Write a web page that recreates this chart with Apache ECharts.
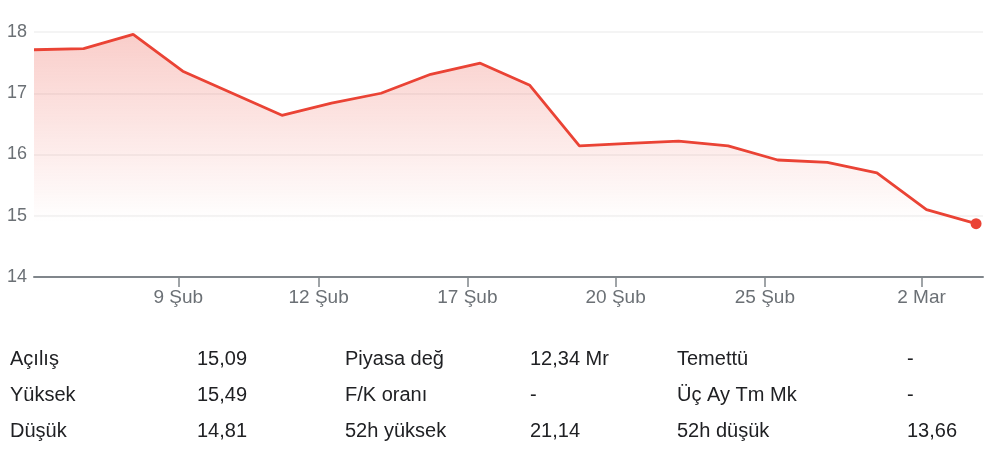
<!DOCTYPE html>
<html>
<head>
<meta charset="utf-8">
<script src="https://cdn.jsdelivr.net/npm/echarts@6/dist/echarts.min.js"></script>
<style>
  html, body { margin: 0; padding: 0; background: #fff; }
  #chart { width: 1000px; height: 472px; }
</style>
</head>
<body>
<div id="chart"></div>
<script>
// kapanış fiyatları (işlem günü sırasıyla)
const prices = [17.71, 17.73, 17.96, 17.36, 17.0, 16.64, 16.84, 17.0, 17.31, 17.49,
  17.13, 16.14, 16.18, 16.22, 16.14, 15.91, 15.87, 15.70, 15.10, 14.87]

// eksen etiketleri ve yerleri (işlem günü indeksine göre)
const tickLabels = ['9 Şub', '12 Şub', '17 Şub', '20 Şub', '25 Şub', '2 Mar']
const tickPositions = [2.91, 5.74, 8.74, 11.73, 14.74, 17.9]

// alt tablo
const statNames1 = ['Açılış', 'Yüksek', 'Düşük']
const statValues1 = ['15,09', '15,49', '14,81']
const statNames2 = ['Piyasa değ', 'F/K oranı', '52h yüksek']
const statValues2 = ['12,34 Mr', '-', '21,14']
const statNames3 = ['Temettü', 'Üç Ay Tm Mk', '52h düşük']
const statValues3 = ['-', '-', '13,66']

const RED = '#ea4335'
const FONT = '"Liberation Sans", Arial, sans-serif'

const chart = echarts.init(document.getElementById('chart'))

// tablo yazıları
const graphics = []
const columns = [
  [statNames1, 10], [statValues1, 197],
  [statNames2, 345], [statValues2, 530],
  [statNames3, 677], [statValues3, 907]
]
const rowY = [359, 395.5, 431.5]
columns.forEach(([texts, x]) => {
  texts.forEach((t, i) => {
    graphics.push({
      type: 'text',
      x: x,
      y: rowY[i],
      style: {
        text: t,
        fill: '#202124',
        font: '20px ' + FONT,
        verticalAlign: 'middle'
      }
    })
  })
})

const seriesData = prices.map((v, i) => [i, v])

const option = {
  animation: false,
  grid: { left: 34, right: 17, top: 32, bottom: 195 },
  xAxis: {
    type: 'value',
    min: 0,
    max: 19.14,
    axisLine: { show: true, lineStyle: { color: '#80868b', width: 2 } },
    axisTick: {
      show: true,
      length: 10,
      customValues: tickPositions,
      lineStyle: { color: '#80868b', width: 1.5 }
    },
    axisLabel: {
      customValues: tickPositions,
      margin: 11,
      color: '#6b7075',
      fontSize: 19,
      fontFamily: FONT,
      formatter: (val) => {
        const idx = tickPositions.findIndex((p) => Math.abs(p - val) < 1e-6)
        return idx >= 0 ? tickLabels[idx] : ''
      }
    },
    splitLine: { show: false }
  },
  yAxis: {
    type: 'value',
    min: 14,
    max: 18,
    interval: 1,
    axisLine: { show: false },
    axisTick: { show: false },
    axisLabel: { margin: 7, color: '#6b7075', fontSize: 18, fontFamily: FONT },
    splitLine: { lineStyle: { color: '#f1f1f1', width: 1.5 } }
  },
  series: [
    {
      type: 'line',
      data: seriesData,
      showSymbol: false,
      symbol: 'none',
      lineStyle: { color: RED, width: 2.8 },
      areaStyle: {
        color: {
          type: 'linear',
          x: 0, y: 32, x2: 0, y2: 222,
          global: true,
          colorStops: [
            { offset: 0, color: 'rgba(234,67,53,0.38)' },
            { offset: 1, color: 'rgba(234,67,53,0)' }
          ]
        }
      },
      markPoint: {
        symbol: 'circle',
        symbolSize: 11,
        label: { show: false },
        itemStyle: { color: RED },
        data: [{ coord: seriesData[seriesData.length - 1] }]
      }
    }
  ],
  graphic: graphics
}

chart.setOption(option)
</script>
</body>
</html>
